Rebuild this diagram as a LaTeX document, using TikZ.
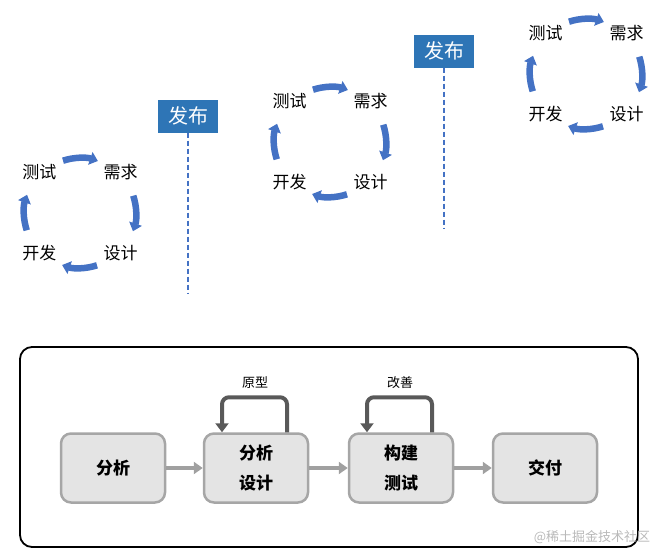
\documentclass[tikz,border=0pt]{standalone}
\usepackage{fontspec}
\setmainfont{Noto Sans CJK SC}
\usetikzlibrary{arrows.meta}
\definecolor{cycblue}{HTML}{4472C4}
\definecolor{relblue}{HTML}{2E75B6}
\definecolor{boxfill}{HTML}{E4E4E4}
\definecolor{boxline}{HTML}{A6A6A6}
\definecolor{flowgray}{HTML}{A0A0A0}
\definecolor{loopgray}{HTML}{595959}
\tikzset{
  lbl/.style={font=\fontsize{17}{17}\selectfont, inner sep=0pt},
  cyc/.style={line width=6.5pt, cycblue, -{Triangle[width=13pt,length=8pt]}},
  cycle/.pic={
    \node[lbl] (-t) at (-40.5,-40.5) {测试};
    \node[lbl] (-r) at (40.5,-40.5) {需求};
    \node[lbl] (-k) at (-40.5,40.5) {开发};
    \node[lbl] (-s) at (40.5,40.5) {设计};
    \draw[cyc] (-108:55) arc[start angle=-108,end angle=-71,radius=55];
    \draw[cyc] (-18:56) arc[start angle=-18,end angle=19,radius=56];
    \draw[cyc] (72:55) arc[start angle=72,end angle=109,radius=55];
    \draw[cyc] (162:56) arc[start angle=162,end angle=199,radius=56];
  },
  rel/.style={fill=relblue, text=white, font=\fontsize{20}{20}\selectfont, minimum width=60pt, minimum height=33pt, inner sep=0pt},
  reldash/.style={cycblue, line width=1.3pt, dash pattern=on 5pt off 3pt},
  proc/.style={draw=boxline, fill=boxfill, line width=2.5pt, rounded corners=10pt, minimum width=104pt, minimum height=69pt, font=\fontsize{17}{30}\selectfont\bfseries, align=center, inner sep=0pt},
  flow/.style={flowgray, line width=4pt, -{Triangle[width=12pt,length=9pt]}},
  fbloop/.style={loopgray, line width=4pt, rounded corners=7pt, -{Triangle[width=13pt,length=9pt]}},
  small/.style={font=\fontsize{13}{13}\selectfont, inner sep=0pt},
}
\begin{document}
\begin{tikzpicture}[x=1pt,y=-1pt]
\useasboundingbox (0,0) rectangle (670,560);
% cycles
\pic (c1) at (80,213) {cycle};
\pic (c2) at (330,142) {cycle};
\pic (c3) at (586,74) {cycle};
% releases
\node[rel] (r1) at (188,116) {发布};
\coordinate (r1e) at (188,294);
\draw[reldash] (r1) -- (r1e);
\node[rel] (r2) at (444,51) {发布};
\coordinate (r2e) at (444,228);
\draw[reldash] (r2) -- (r2e);
% panel
\draw[line width=1.8pt, rounded corners=12pt] (20,347) rectangle (638,547);
\node[proc] (b1) at (113,468) {分析};
\node[proc] (b2) at (256,468) {分析\\设计};
\node[proc] (b3) at (401,468) {构建\\测试};
\node[proc] (b4) at (545,468) {交付};
\draw[flow] (b1) -- (b2);
\draw[flow] (b2) -- (b3);
\draw[flow] (b3) -- (b4);
\draw[fbloop] ([xshift=31pt]b2.north) -- ++(0,-35) -| ([xshift=-34pt]b2.north);
\draw[fbloop] ([xshift=31pt]b3.north) -- ++(0,-35) -| ([xshift=-34pt]b3.north);
\node[small] (l1) at (255,383) {原型};
\node[small] (l2) at (400,383) {改善};
\node[font=\fontsize{13}{13}\selectfont, text=gray!55, inner sep=0pt] (wm) at (592,537) {@稀土掘金技术社区};
\end{tikzpicture}
\end{document}
